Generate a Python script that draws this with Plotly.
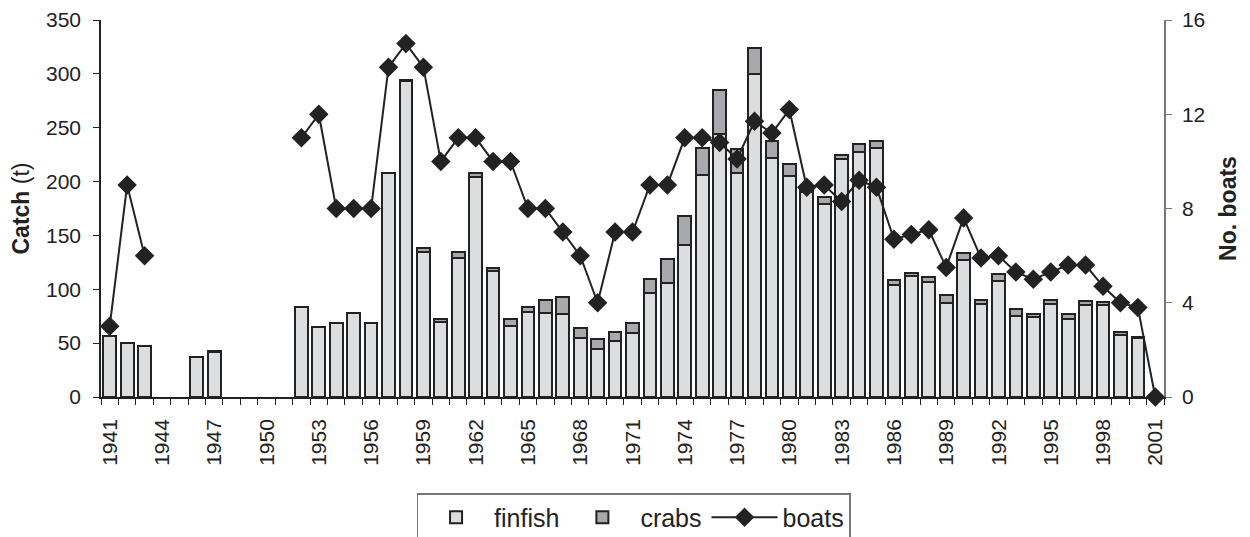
import plotly.graph_objects as go

# years 1941-2001, None where nothing was recorded
years = list(range(1941, 2002))

finfish = [57, 50, 47, None, None, 37, 42, None, None, None,
           None, 84, 65, 69, 78, 69, 208, 293, 135, 70,
           129, 204, 117, 66, 79, 78, 77, 55, 45, 52,
           59, 97, 106, 141, 206, 244, 208, 300, 222, 205,
           190, 179, 221, 227, 231, 104, 112, 107, 87, 127,
           86, 108, 75, 74, 86, 72, 85, 85, 58, 55,
           None]

crabs = [None, None, None, None, None, None, 1, None, None, None,
         None, None, None, None, None, None, None, 1, 3, 2,
         6, 4, 3, 6, 5, 12, 16, 9, 9, 8,
         10, 13, 22, 27, 25, 41, 22, 24, 16, 11,
         5, 7, 4, 8, 7, 5, 3, 4, 8, 7,
         4, 6, 7, 3, 4, 5, 4, 3, 2, 0.5,
         None]

boats = [3, 9, 6, None, None, None, None, None, None, None,
         None, 11, 12, 8, 8, 8, 14, 15, 14, 10,
         11, 11, 10, 10, 8, 8, 7, 6, 4, 7,
         7, 9, 9, 11, 11, 10.8, 10.1, 11.7, 11.2, 12.2,
         8.9, 9.0, 8.3, 9.2, 8.9, 6.7, 6.9, 7.1, 5.5, 7.6,
         5.9, 6.0, 5.3, 5.0, 5.3, 5.6, 5.6, 4.7, 4.0, 3.8,
         0]

label_years = list(range(1941, 2002, 3))

ink = "#222222"
font = "Liberation Sans, Arial, sans-serif"

# ticks sit between the bars, labels are shifted back under the bar centres
tick_pos = [y - 0.5 for y in years] + [2001.5]
tick_txt = [str(int(p + 0.5)) if int(p + 0.5) in label_years else "" for p in tick_pos]

fig = go.Figure()

fig.add_trace(go.Bar(
    x=years, y=finfish, name="finfish",
    marker=dict(color="#dcdddf", line=dict(color=ink, width=2)),
))
fig.add_trace(go.Bar(
    x=years, y=crabs, name="crabs",
    marker=dict(color="#a8a9ac", line=dict(color=ink, width=2)),
))
fig.add_trace(go.Scatter(
    x=years, y=boats, name="boats", yaxis="y2",
    mode="lines+markers", connectgaps=False, cliponaxis=False,
    line=dict(color=ink, width=2),
    marker=dict(symbol="diamond", size=15, color=ink),
))

# page body has an 8px margin, so the figure is a bit smaller than the window
fig.update_layout(
    width=1242, height=529,
    margin=dict(l=93, r=86, t=12, b=140, autoexpand=False),
    paper_bgcolor="white", plot_bgcolor="white",
    barmode="stack", bargap=0.27,
    font=dict(family=font, size=21, color=ink),
    showlegend=True,
    legend=dict(
        orientation="h", x=0.501, xanchor="center",
        yref="container", y=0.083, yanchor="top",
        bordercolor="#777777", borderwidth=1.5,
        font=dict(size=25), traceorder="normal", itemwidth=66,
    ),
    xaxis=dict(
        range=[1940.5, 2001.5],
        tickmode="array", tickvals=tick_pos, ticktext=tick_txt,
        ticklabelshift=9, ticklabelstandoff=6,
        tickangle=-90, ticks="outside", ticklen=6, tickcolor=ink,
        showline=True, linecolor=ink, linewidth=1.5,
        showgrid=False, zeroline=False,
        tickfont=dict(size=21),
    ),
    yaxis=dict(
        range=[0, 350], dtick=50,
        title=dict(text="<b>Catch</b> (t)", font=dict(size=23), standoff=10),
        ticks="outside", ticklen=6, tickcolor=ink, ticklabelstandoff=8,
        ticklabeloverflow="allow",
        showline=True, linecolor=ink, linewidth=1.5,
        showgrid=False, zeroline=False,
        tickfont=dict(size=21),
    ),
    yaxis2=dict(
        range=[0, 16], dtick=4, overlaying="y", side="right",
        title=dict(text="<b>No. boats</b>", font=dict(size=23), standoff=16),
        ticks="outside", ticklen=6, tickcolor="#777777", ticklabelstandoff=6,
        ticklabeloverflow="allow",
        showline=True, linecolor="#777777", linewidth=1.5,
        showgrid=False, zeroline=False,
        tickfont=dict(size=21),
    ),
)

fig.write_html("out.html")
